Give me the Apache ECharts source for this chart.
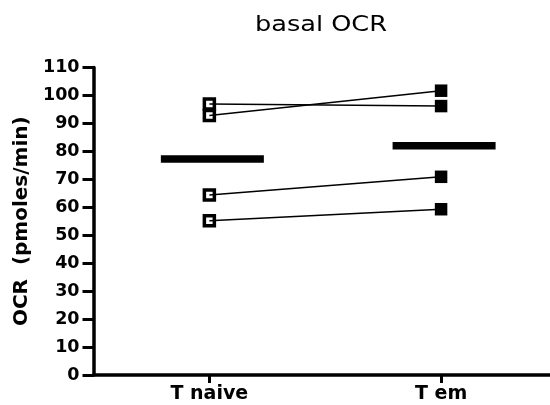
<!DOCTYPE html>
<html>
<head>
<meta charset="utf-8">
<script src="https://cdn.jsdelivr.net/npm/echarts@6/dist/echarts.min.js"></script>
<style>html,body{margin:0;padding:0;background:#fff}#c{width:550px;height:405px}</style>
</head>
<body>
<div id="c"></div>
<script>
var categories = ['T naive', 'T em'];
var naiveValues = [96.9, 92.8, 64.4, 55.2];
var emValues = [96.2, 101.7, 70.9, 59.3];
var meanValues = [77.3, 82.0];
var yTicks = [0, 10, 20, 30, 40, 50, 60, 70, 80, 90, 100, 110];
var titleText = 'basal OCR';
var yAxisName = 'OCR  (pmoles/min)';

var naivePts = naiveValues.map(function (v) { return [1, v]; });
var emPts = emValues.map(function (v) { return [2, v]; });
var series = [];
series.push({
  type: 'scatter', data: naivePts, symbol: 'rect', symbolSize: 10,
  itemStyle: { color: '#fff', borderColor: '#000', borderWidth: 3.5, opacity: 1 }, z: 2
});
series.push({
  type: 'scatter', data: emPts, symbol: 'rect', symbolSize: 12.5,
  itemStyle: { color: '#000', opacity: 1 }, z: 2
});
for (var i = 0; i < naiveValues.length; i++) {
  series.push({
    type: 'line', data: [[1, naiveValues[i]], [2, emValues[i]]],
    showSymbol: false, lineStyle: { color: '#000', width: 1.5 }, z: 3, silent: true
  });
}
series.push({
  type: 'custom',
  data: meanValues.map(function (v, k) { return [k + 1, v]; }),
  renderItem: function (params, api) {
    var p = api.coord([api.value(0), api.value(1)]);
    var w = 103, h = 7.5;
    return { type: 'rect', shape: { x: p[0] - w / 2 + 3, y: p[1] - h / 2, width: w, height: h }, style: { fill: '#000' } };
  },
  z: 4
});

var chart = echarts.init(document.getElementById('c'), null, { renderer: 'canvas' });
chart.setOption({
  animation: false,
  backgroundColor: '#fff',
  grid: { left: 93.5, right: 0, top: 67.5, bottom: 30, containLabel: false },
  graphic: [{
    type: 'text', x: 321, y: 26, scaleX: 1.22, originX: 0, originY: 0,
    style: { text: titleText, font: '21px "DejaVu Sans"', fill: '#000', textAlign: 'center', textVerticalAlign: 'middle' }
  }],
  xAxis: {
    type: 'value', min: 0.5, max: 2.47,
    splitLine: { show: false },
    axisLine: { lineStyle: { color: '#000', width: 3.5 } },
    axisTick: { customValues: [1, 2], length: 8, lineStyle: { color: '#000', width: 3 } },
    axisLabel: {
      customValues: [1, 2], margin: 10,
      formatter: function (v) { return categories[Math.round(v) - 1]; },
      color: '#000', fontFamily: 'DejaVu Sans', fontWeight: 'bold', fontSize: 19
    }
  },
  yAxis: {
    type: 'value', min: yTicks[0], max: yTicks[yTicks.length - 1], interval: 10,
    name: yAxisName, nameLocation: 'middle', nameRotate: 90, nameGap: 62,
    nameTextStyle: { color: '#000', fontFamily: 'DejaVu Sans', fontWeight: 'bold', fontSize: 20 },
    splitLine: { show: false },
    axisLine: { show: true, lineStyle: { color: '#000', width: 3.5 } },
    axisTick: { show: true, length: 11, lineStyle: { color: '#000', width: 3 } },
    axisLabel: { margin: 14, color: '#000', fontFamily: 'DejaVu Sans', fontWeight: 'bold', fontSize: 17.5 }
  },
  series: series
});
</script>
</body>
</html>
